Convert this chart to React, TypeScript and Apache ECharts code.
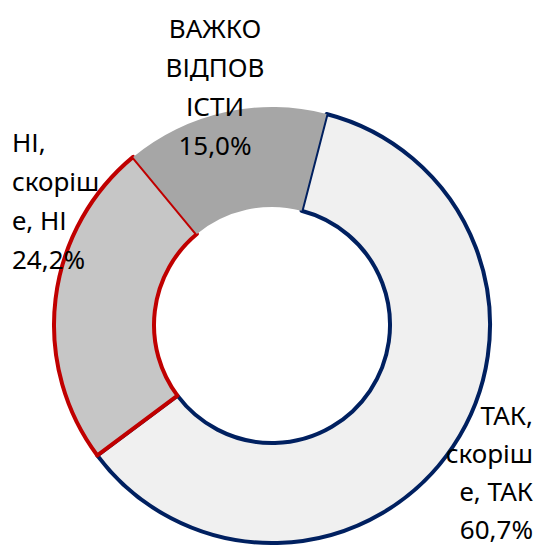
import React, { useEffect, useRef } from "react";
import * as echarts from "echarts";

// Data
const categories = ["ТАК, скоріше, ТАК", "НІ, скоріше, НІ", "ВАЖКО ВІДПОВІСТИ"];
const values = [60.7, 24.2, 15.0];
// Label text as wrapped in the original chart
const labelLines = [
  ["ТАК,", "скоріш", "е, ТАК"],
  ["НІ,", "скоріш", "е, НІ"],
  ["ВАЖКО", "ВІДПОВ", "ІСТИ"],
];

// Styles
const fills = ["#f0f0f0", "#c6c6c6", "#a6a6a6"];
const borders = ["#002060", "#c00000", "transparent"];
const borderWidths = [4, 4, 0];
const labelPos = [
  { x: 533, y: 396, align: "right", lh: 38 },
  { x: 12, y: 122, align: "left", lh: 39 },
  { x: 215, y: 8, align: "center", lh: 39 },
];

export default function App() {
  const ref = useRef<HTMLDivElement>(null);
  useEffect(() => {
    if (!ref.current) return;
    const chart = echarts.init(ref.current, undefined, { renderer: "svg" });
    const fmt = (v: number) => v.toFixed(1).replace(".", ",") + "%";
    chart.setOption({
      animation: false,
      backgroundColor: "#ffffff",
      series: [
        {
          type: "pie",
          radius: [118, 218],
          center: [272, 325],
          startAngle: 75.5,
          clockwise: true,
          avoidLabelOverlap: false,
          emphasis: { disabled: true },
          silent: true,
          labelLine: { show: false },
          label: {
            show: true,
            position: "outside",
            color: "#000000",
            fontFamily: "Noto Sans",
            fontSize: 26,
            lineHeight: 39,
            formatter: (p: any) =>
              [...labelLines[p.dataIndex], fmt(p.value)].join("\n"),
          },
          labelLayout: (p: any) => {
            const pos = labelPos[p.dataIndex];
            return { x: pos.x, y: pos.y, align: pos.align, verticalAlign: "top" };
          },
          data: categories.map((name, i) => ({
            name,
            value: values[i],
            label: { lineHeight: labelPos[i].lh },
            itemStyle: {
              color: fills[i],
              borderColor: borders[i],
              borderWidth: borderWidths[i],
            },
          })),
        },
      ],
    });
    return () => chart.dispose();
  }, []);
  return (
    <div
      ref={ref}
      style={{ position: "absolute", left: 0, top: 0, width: 536, height: 549 }}
    />
  );
}
